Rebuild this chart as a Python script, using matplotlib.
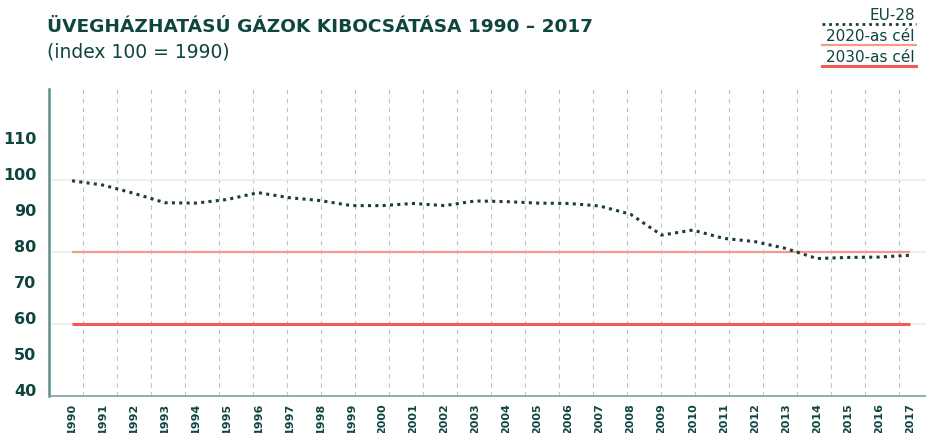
import numpy as np
import matplotlib.pyplot as plt
import matplotlib.transforms as mtransforms

#Data.
years = list(range(1990, 2018))
eu28 = [99.8, 98.6, 96.3, 93.7, 93.6, 94.6, 96.5, 95.1, 94.3, 92.9,
        92.9, 93.5, 92.9, 94.2, 94.0, 93.6, 93.5, 92.8, 90.5, 84.7,
        86.1, 83.8, 82.9, 81.0, 78.2, 78.5, 78.6, 79.1]
target_2020 = 80
target_2030 = 60
yticks = [40, 50, 60, 70, 80, 90, 100, 110]

dark = '#0e4540'

fig = plt.figure(figsize=(9.26, 4.33), dpi=100)
ax = fig.add_axes([49/926, 37/433, 877/926, 307/433])

x = np.arange(len(years))
ax.set_xlim(-0.741, 27.52)
ax.set_ylim(40, 125.3)

#Dashed vertical guides (spacing is independent of the year ticks).
step = 34 / 31.04
for gx in -0.741 + step*np.arange(1, 26):
    ax.axvline(gx, color='#b3c8c4', lw=0.8, ls=(0, (4, 4)), zorder=1)
for gy in [60, 80, 100]:
    ax.axhline(gy, color='#e9eeee', lw=1.2, zorder=1)

ax.hlines(target_2020, x[0], x[-1], color='#f59a88', lw=1.6, zorder=2)
ax.hlines(target_2030, x[0], x[-1], color='#f25a5a', lw=2.2, zorder=2)
ax.plot(x, eu28, color='#1d3c39', lw=2.2, ls=(0, (1, 1.4)), zorder=3)

for s in ['top', 'right']:
    ax.spines[s].set_visible(False)
ax.spines['left'].set_color('#5f8e8a')
ax.spines['left'].set_linewidth(1.8)
ax.spines['bottom'].set_color('#7aa19d')
ax.spines['bottom'].set_linewidth(1.2)

ax.set_yticks(yticks)
ax.set_yticklabels([str(v) for v in yticks], fontsize=11.5,
                   fontweight='bold', color=dark)
ax.tick_params(axis='y', length=0, pad=9)
off = mtransforms.ScaledTranslation(0, 0.065, fig.dpi_scale_trans)
for lab in ax.get_yticklabels():
    lab.set_transform(lab.get_transform() + off)

ax.set_xticks(x)
ax.set_xticklabels([str(y) for y in years], rotation=90, fontsize=8,
                   fontweight='bold', color=dark, va='top')
ax.tick_params(axis='x', length=0, pad=5)

#Title
fig.text(47/926, 1 - 27/433, 'ÜVEGHÁZHATÁSÚ GÁZOK KIBOCSÁTÁSA 1990 – 2017',
         fontsize=13.3, fontweight='bold', color=dark,
         va='center', ha='left')
fig.text(47/926, 1 - 52/433, '(index 100 = 1990)', fontsize=13.5,
         color=dark, va='center', ha='left')

#Legend drawn by hand at top right
leg = [('EU-28', '#1d3c39', (0, (1, 1.4)), 2.0),
       ('2020-as cél', '#f59a88', '-', 1.6),
       ('2030-as cél', '#f25a5a', '-', 2.2)]
for i, (lab, c, ls, lw) in enumerate(leg):
    yl = 1 - (24 + 21*i)/433
    yt = 1 - (20 + 21*i)/433
    fig.text(915/926, yt, lab, fontsize=11, color=dark,
             ha='right', va='baseline')
    fig.add_artist(plt.Line2D([822/926, 916/926], [yl, yl], color=c,
                              ls=ls, lw=lw, transform=fig.transFigure))

plt.savefig('out.png', dpi=100)
